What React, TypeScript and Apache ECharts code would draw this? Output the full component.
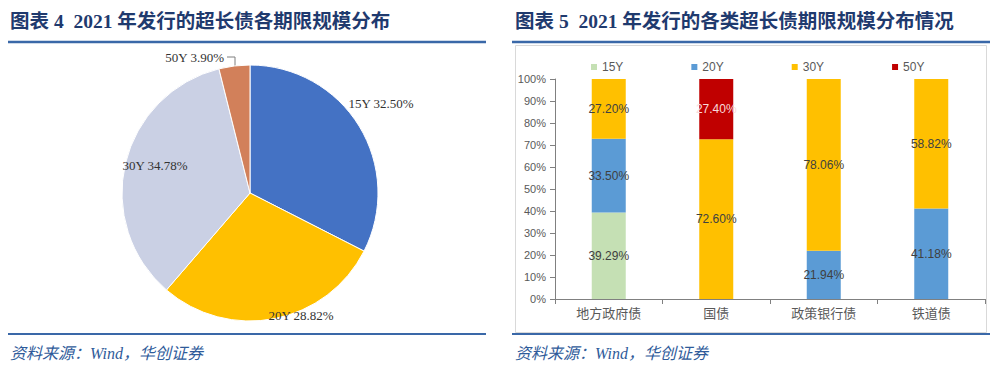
import React, { useEffect, useRef } from "react";
import * as echarts from "echarts";

const pieNames = ["15Y", "20Y", "30Y", "50Y"];
const pieValues = [32.5, 28.82, 34.78, 3.9];
const pieColors = ["#4472C4", "#FFC000", "#CAD0E4", "#D2805A"];

const barCategories = ["地方政府债", "国债", "政策银行债", "铁道债"];
const barSeriesNames = ["15Y", "20Y", "30Y", "50Y"];
const bar15Y = [39.29, 0, 0, 0];
const bar20Y = [33.5, 0, 21.94, 41.18];
const bar30Y = [27.2, 72.6, 78.06, 58.82];
const bar50Y = [0, 27.4, 0, 0];
const barColors = ["#C5E0B4", "#5B9BD5", "#FFC000", "#C00000"];
const barLabelColors = ["#404040", "#404040", "#404040", "#F8DADA"];

const yTicks = [0, 10, 20, 30, 40, 50, 60, 70, 80, 90, 100];

const title4 = "图表 4  2021 年发行的超长债各期限规模分布";
const title5 = "图表 5  2021 年发行的各类超长债期限规模分布情况";
const sourceText = "资料来源：Wind，华创证券";

// label anchor positions for the pie (text placement only)
const pieLabelPos: [number, number, string][] = [
  [381, 103, "center"],
  [301, 315, "center"],
  [155, 165, "center"],
  [224, 57, "right"],
];

export default function App() {
  const ref = useRef<HTMLDivElement>(null);
  useEffect(() => {
    if (!ref.current) return;
    const chart = echarts.init(ref.current, null, { renderer: "svg" });
    const barData = [bar15Y, bar20Y, bar30Y, bar50Y];
    const titleStyle = {
      fontFamily: "'Liberation Serif', 'Noto Sans CJK SC', serif",
      fontWeight: "bold" as const,
      fontSize: 19.5,
      color: "#1F3A6E",
    };
    const sansFont = "'Liberation Sans', 'Noto Sans CJK SC', sans-serif";
    chart.setOption({
      animation: false,
      backgroundColor: "#ffffff",
      title: [
        { text: title4, left: 10, top: 12, padding: 0, textStyle: titleStyle },
        { text: title5, left: 515, top: 12, padding: 0, textStyle: titleStyle },
      ],
      legend: {
        data: barSeriesNames,
        left: 586,
        top: 56,
        icon: "rect",
        itemWidth: 6,
        itemHeight: 6,
        itemGap: 68,
        textStyle: { color: "#595959", fontSize: 12, fontFamily: sansFont },
      },
      grid: { left: 555, right: 15, top: 79, bottom: 70, containLabel: false },
      xAxis: {
        type: "category",
        data: barCategories,
        axisLine: { lineStyle: { color: "#808080", width: 1 } },
        axisTick: { show: true, length: 5, interval: 0, lineStyle: { color: "#808080" } },
        axisLabel: { color: "#595959", fontSize: 13, margin: 8, fontFamily: sansFont },
      },
      yAxis: {
        type: "value",
        min: yTicks[0],
        max: yTicks[yTicks.length - 1],
        interval: 10,
        axisLine: { show: true, lineStyle: { color: "#808080", width: 1 } },
        axisTick: { show: true, length: 5, lineStyle: { color: "#808080" } },
        splitLine: { show: false },
        axisLabel: {
          color: "#595959",
          fontSize: 11,
          margin: 9,
          fontFamily: sansFont,
          formatter: "{value}%",
        },
      },
      series: [
        {
          type: "pie",
          name: "期限分布",
          center: [250, 193],
          radius: 128,
          startAngle: 90,
          clockwise: true,
          avoidLabelOverlap: false,
          itemStyle: { borderColor: "#ffffff", borderWidth: 1 },
          label: {
            show: true,
            position: "outside",
            color: "#333333",
            fontSize: 13,
            fontFamily: "'Liberation Serif', serif",
            formatter: (p: any) => `${p.name} ${p.value.toFixed(2)}%`,
          },
          labelLine: { show: true, lineStyle: { color: "#7F7F7F", width: 1 } },
          labelLayout: (p: any) => {
            const pos = pieLabelPos[p.dataIndex];
            const out: any = {
              x: pos[0],
              y: pos[1],
              align: pos[2],
              verticalAlign: "middle",
            };
            if (p.dataIndex === 3) {
              out.labelLinePoints = [
                [235, 66],
                [235, 57],
                [227, 57],
              ];
            }
            return out;
          },
          data: pieNames.map((n, i) => ({
            name: n,
            value: pieValues[i],
            itemStyle: { color: pieColors[i] },
            labelLine: { show: i === 3 },
          })),
        },
        ...barSeriesNames.map((n, i) => ({
          type: "bar",
          name: n,
          stack: "total",
          barWidth: 34,
          itemStyle: { color: barColors[i] },
          label: {
            show: true,
            position: "inside",
            color: barLabelColors[i],
            fontSize: 12,
            fontFamily: sansFont,
            formatter: (p: any) => (p.value ? `${p.value.toFixed(2)}%` : ""),
          },
          data: barData[i],
        })),
      ],
      graphic: [
        {
          type: "rect",
          z: -10,
          shape: { x: 515.5, y: 45.5, width: 471, height: 287 },
          style: { fill: "none", stroke: "#D9D9D9", lineWidth: 1 },
        },
        {
          type: "line",
          shape: { x1: 8, y1: 42, x2: 486, y2: 42 },
          style: { stroke: "#3A68A8", lineWidth: 2.5 },
        },
        {
          type: "line",
          shape: { x1: 512, y1: 42, x2: 990, y2: 42 },
          style: { stroke: "#3A68A8", lineWidth: 2.5 },
        },
        {
          type: "line",
          shape: { x1: 8, y1: 334, x2: 486, y2: 334 },
          style: { stroke: "#3A68A8", lineWidth: 2 },
        },
        {
          type: "line",
          shape: { x1: 512, y1: 334, x2: 990, y2: 334 },
          style: { stroke: "#3A68A8", lineWidth: 2 },
        },
        {
          type: "text",
          x: 10,
          y: 353,
          style: {
            text: sourceText,
            fill: "#2F5B9A",
            fontSize: 16,
            fontStyle: "italic",
            fontFamily: "'Liberation Serif', 'Noto Sans CJK SC', serif",
            verticalAlign: "middle",
          },
        },
        {
          type: "text",
          x: 515,
          y: 353,
          style: {
            text: sourceText,
            fill: "#2F5B9A",
            fontSize: 16,
            fontStyle: "italic",
            fontFamily: "'Liberation Serif', 'Noto Sans CJK SC', serif",
            verticalAlign: "middle",
          },
        },
      ],
    });
    return () => chart.dispose();
  }, []);
  return (
    <div
      ref={ref}
      style={{ position: "fixed", left: 0, top: 0, width: 1000, height: 369 }}
    />
  );
}
